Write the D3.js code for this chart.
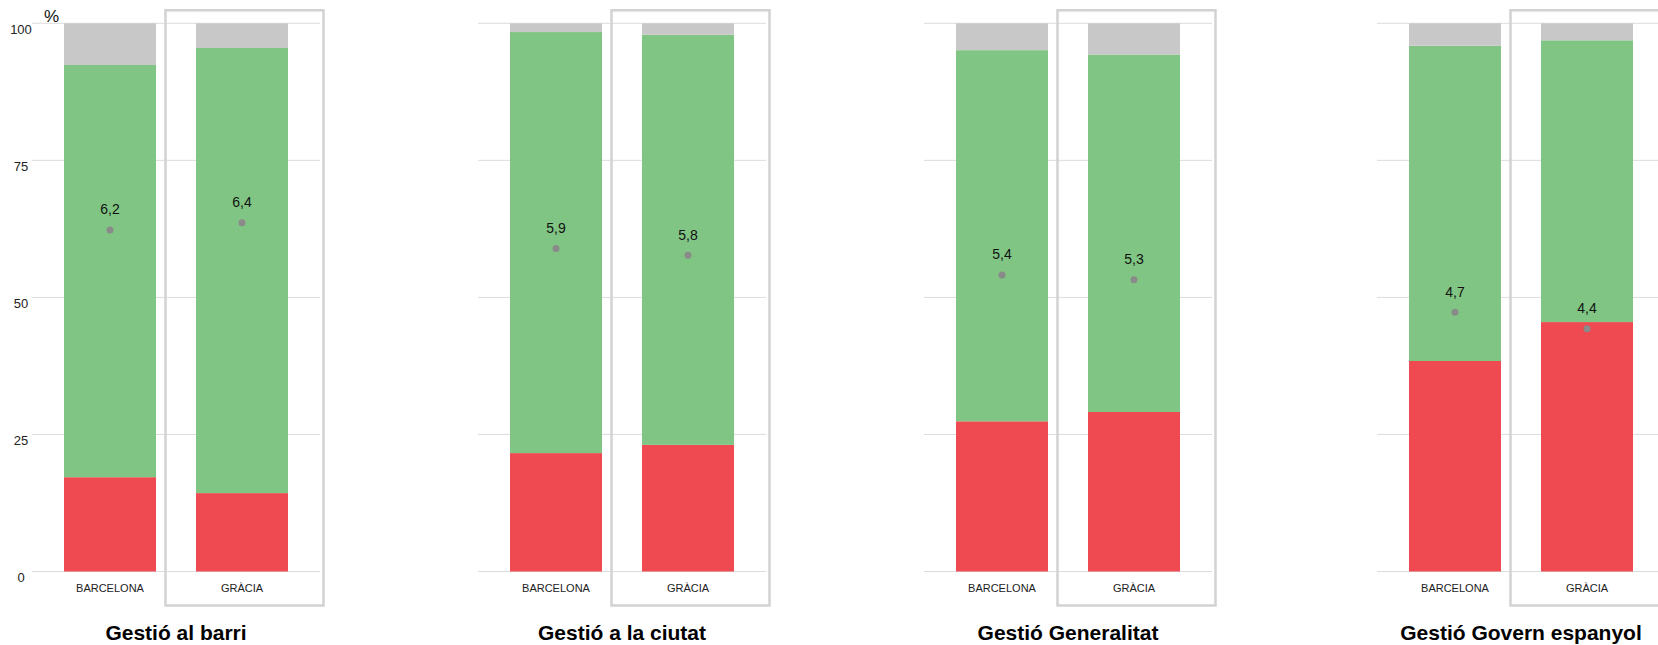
<!DOCTYPE html>
<html>
<head>
<meta charset="utf-8">
<script src="https://cdn.jsdelivr.net/npm/d3@7"></script>
<style>
  html, body { margin: 0; padding: 0; background: #fff; }
  svg { display: block; font-family: "Liberation Sans", Arial, sans-serif; }
</style>
</head>
<body>
<svg id="chart" width="1658" height="645"></svg>
<script>
// ---- data ----
const panels = ["Gestió al barri", "Gestió a la ciutat", "Gestió Generalitat", "Gestió Govern espanyol"];
const categories = ["BARCELONA", "GRÀCIA"];
const suspens = [[17.2, 14.3], [21.6, 23.1], [27.4, 29.1], [38.4, 45.5]];
const aprovat = [[75.2, 81.2], [76.8, 74.8], [67.7, 65.2], [57.5, 51.4]];
const nsnc    = [[7.6, 4.5], [1.6, 2.1], [4.9, 5.7], [4.1, 3.1]];
const means   = [[6.23, 6.36], [5.89, 5.77], [5.41, 5.32], [4.73, 4.43]];
const yTicks  = [0, 25, 50, 75, 100];

// ---- layout ----
const panelX = [32, 478, 924, 1377];
const panelW = 288;
const colors = { suspens: "#ef4a51", aprovat: "#80c583", nsnc: "#c8c8c8" };
const keys = ["suspens", "aprovat", "nsnc"];

const svg = d3.select("#chart");
const y = d3.scaleLinear().domain([0, 100]).range([571.5, 23.3]);
const fmt = v => d3.format(".1f")(v).replace(".", ",");

// y-axis labels (first panel only)
svg.append("g").selectAll("text").data(yTicks).join("text")
  .attr("x", 21).attr("y", d => y(d) + 10.5)
  .attr("text-anchor", "middle").attr("font-size", 13).attr("fill", "#222")
  .text(d => d);
svg.append("text").attr("x", 44).attr("y", 22).attr("font-size", 17).attr("fill", "#111").text("%");

panels.forEach((title, p) => {
  const X = panelX[p];
  const g = svg.append("g");
  const x = d3.scaleBand().domain(categories)
    .range([X + 12, X + 276]).paddingInner(0.303).paddingOuter(0.1515);

  // gridlines
  g.append("g").selectAll("line").data(yTicks).join("line")
    .attr("x1", X).attr("x2", X + panelW)
    .attr("y1", d => y(d)).attr("y2", d => y(d))
    .attr("stroke", "#dcdcdc").attr("stroke-width", 1);

  // stacked bars
  const rows = categories.map((c, i) => ({
    cat: c, suspens: suspens[p][i], aprovat: aprovat[p][i], nsnc: nsnc[p][i]
  }));
  const stacked = d3.stack().keys(keys)(rows);
  g.append("g").selectAll("g").data(stacked).join("g")
    .attr("fill", d => colors[d.key])
    .selectAll("rect").data(d => d).join("rect")
      .attr("x", d => x(d.data.cat))
      .attr("width", x.bandwidth())
      .attr("y", d => y(Math.min(100, d[1])))
      .attr("height", d => y(d[0]) - y(Math.min(100, d[1])));

  // highlight box around GRÀCIA
  const bx = x("GRÀCIA");
  g.append("rect")
    .attr("x", bx - 30.5).attr("y", 10.3)
    .attr("width", x.bandwidth() + 66).attr("height", 595.2)
    .attr("fill", "none").attr("stroke", "#d2d2d2").attr("stroke-width", 2.5);

  // mean dots and labels
  categories.forEach((c, i) => {
    const cx = x(c) + x.bandwidth() / 2;
    const cy = y(means[p][i] * 10);
    g.append("circle").attr("cx", cx).attr("cy", cy).attr("r", 3.5).attr("fill", "#8a8a8a");
    g.append("text").attr("x", cx).attr("y", cy - 15.5)
      .attr("text-anchor", "middle").attr("font-size", 14).attr("fill", "#111")
      .text(fmt(means[p][i]));
    g.append("text").attr("x", cx).attr("y", 592)
      .attr("text-anchor", "middle").attr("font-size", 11).attr("fill", "#222")
      .text(c);
  });

  // panel title
  g.append("text").attr("x", X + 144).attr("y", 640)
    .attr("text-anchor", "middle").attr("font-size", 21).attr("font-weight", "bold")
    .attr("fill", "#000").text(title);
});
</script>
</body>
</html>
